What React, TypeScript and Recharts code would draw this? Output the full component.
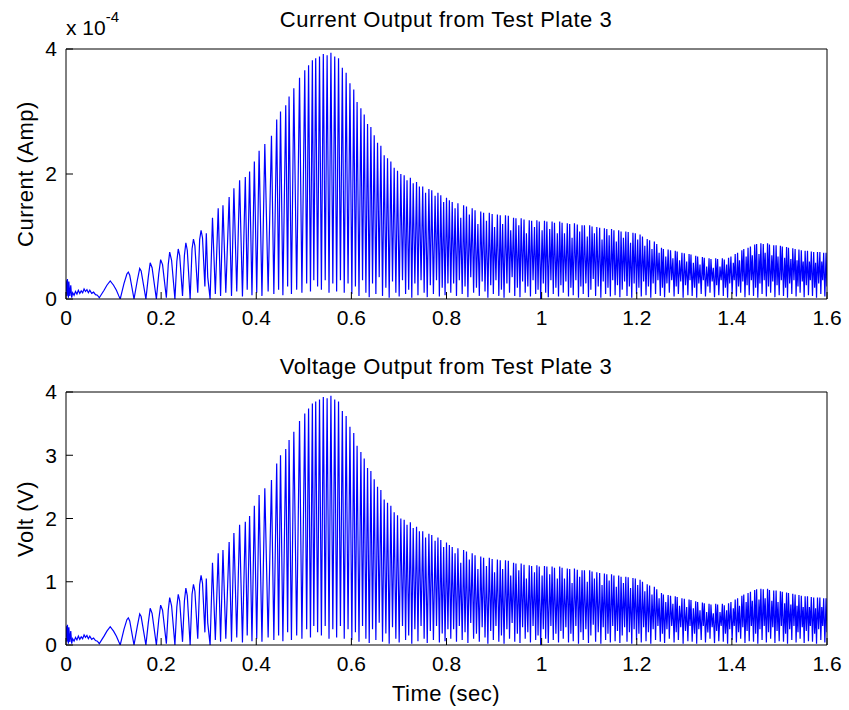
import React from 'react';
import { LineChart, Line, XAxis, YAxis } from 'recharts';

const FONT = '"Liberation Sans", Arial, Helvetica, sans-serif';

const xTicks = [0, 0.2, 0.4, 0.6, 0.8, 1, 1.2, 1.4, 1.6];
const currentTicks = [0, 2, 4];
const voltTicks = [0, 1, 2, 3, 4];

// [time in ms, amplitude] — amplitude is in volts (bottom) and in 1e-4 A (top)
type Pt = [number, number];

const quietStart: Pt[] = [
  [0, 0.30], [2, 0.05], [3, 0.32], [5, 0.02], [6, 0.28], [8, 0.05], [10, 0.22], [12, 0.02], [14, 0.10], [17, 0.06],
  [20, 0.12], [23, 0.08], [26, 0.14], [29, 0.09], [32, 0.13], [35, 0.10], [38, 0.16], [41, 0.12], [44, 0.15], [47, 0.10],
  [50, 0.14], [54, 0.09], [58, 0.11], [62, 0.07], [66, 0.06], [70, 0.02], [75, 0.08], [80, 0.14], [86, 0.22], [93, 0.29],
  [100, 0.22], [106, 0.14], [111, 0.05], [114, 0.00],
];

const riseCycles: Pt[] = [
  [122, 0.25], [128, 0.40], [131, 0.43], [134, 0.38], [143, 0.00],
  [150, 0.30], [155, 0.49], [158, 0.45], [168, 0.00],
  [173, 0.35], [177, 0.58], [181, 0.50], [190, 0.00],
  [195, 0.40], [199, 0.63], [203, 0.55], [211, 0.02],
  [215, 0.55], [218, 0.75], [222, 0.62], [229, 0.00],
  [233, 0.60], [236, 0.80], [239, 0.70], [245, 0.05],
  [249, 0.70], [252, 0.90], [255, 0.78], [261, 0.00],
  [265, 0.80], [268, 0.96], [271, 0.85], [277, 0.10],
  [281, 0.95], [284, 1.10], [287, 0.98], [292, 0.20],
  [295, 1.05], [298, 0.35], [303, 0.00],
];

const growthCycles: Pt[] = [
  [308, 1.30], [314, 0.08], [320, 1.45], [325, 0.05], [330, 1.50], [336, 0.10], [343, 1.63], [348, 0.05],
  [353, 1.77], [359, 0.12], [365, 1.90], [371, 0.04], [377, 1.95], [381, 0.15], [386, 2.04], [391, 0.06],
  [396, 2.20], [401, 0.10], [406, 2.37], [412, 0.05], [418, 2.48], [425, 0.12], [432, 2.61], [437, 0.08],
  [443, 2.87], [447, 0.15], [451, 3.00], [456, 0.06], [462, 3.10], [466, 0.20], [469, 3.24], [474, 0.08],
  [479, 3.37], [485, 0.15], [491, 3.54], [496, 0.10], [502, 3.66], [506, 0.25], [510, 3.74], [514, 0.12],
  [518, 3.82], [521, 0.30], [525, 3.85],
];

const peakCycles: Pt[] = [
  [529, 0.20], [533, 3.88], [537, 0.15], [541, 3.92], [545, 0.30], [549, 3.90], [553, 0.10], [557, 3.94],
  [561, 0.25], [565, 3.88], [569, 0.12], [573, 3.85], [577, 0.30], [581, 3.70], [585, 0.10], [589, 3.62],
  [593, 0.25], [597, 3.45], [601, 0.08],
];

const decayCycles: Pt[] = [
  [605, 3.35], [608.5, 0.20], [612, 3.15], [616, 0.05], [620, 3.05], [623.5, 0.30], [627, 2.95], [630.5, 0.10],
  [634, 2.80], [637.5, 0.03], [641, 2.75], [644.5, 0.25], [648, 2.62], [651.5, 0.08], [655, 2.50], [658.5, 0.35],
  [662, 2.45], [665.5, 0.05], [669, 2.30], [672.5, 0.18], [676, 2.25], [679.5, 0.02], [683, 2.20], [686.5, 0.28],
  [690, 2.10], [693.5, 0.10], [697, 2.05], [700.5, 0.04], [704, 2.00], [707.5, 0.30], [711, 1.98], [714, 0.08],
  [717, 1.90], [720.5, 0.15], [724, 1.94], [727, 0.02], [730, 1.85], [733.5, 0.25], [737, 1.87], [740, 0.06],
  [743, 1.80], [746.5, 0.30], [750, 1.80], [753, 0.10], [756, 1.70], [759.5, 0.03], [763, 1.76], [766, 0.22],
  [769, 1.74], [772.5, 0.08], [776, 1.65], [779, 0.30], [782, 1.70], [785, 0.04], [788, 1.66], [791, 0.18],
  [794, 1.55], [797, 0.06], [800, 1.62], [803, 0.25],
];

const plateauCycles: Pt[] = [
  [806, 1.58], [809, 0.10], [812, 1.55], [815, 0.25], [818, 1.45], [821, 0.05], [824, 1.53], [827, 0.30],
  [830, 1.30], [833, 0.08], [836, 1.50], [839, 0.20], [842, 1.48], [845, 0.03], [848, 1.35], [851, 0.35],
  [854, 1.45], [857, 0.10], [860, 1.42], [863, 0.18], [866, 1.20], [869, 0.05], [872, 1.40], [875, 0.28],
  [878, 1.38], [881, 0.12], [884, 1.25], [887, 0.02], [890, 1.38], [893, 0.22], [896, 1.36], [898.5, 0.08],
  [901, 1.15], [904, 0.30], [907, 1.35], [910, 0.05], [913, 1.34], [915.5, 0.15], [918, 1.20], [921, 0.02],
  [924, 1.34], [927, 0.25], [930, 1.33], [932.5, 0.10], [935, 1.10], [938, 0.35], [941, 1.30], [943.5, 0.05],
  [946, 1.29], [949, 0.18], [952, 1.18], [954.5, 0.03], [957, 1.29], [960, 0.28], [963, 1.27], [965.5, 0.10],
  [968, 1.05], [971, 0.20], [974, 1.26], [976.5, 0.04], [979, 1.25], [982, 0.30], [985, 1.15], [987.5, 0.08],
  [990, 1.26], [992.5, 0.15], [995, 1.24], [998, 0.00], [1001, 1.10], [1003.5, 0.25], [1006, 1.25], [1008.5, 0.10],
  [1011, 1.24], [1014, 0.03], [1017, 1.12], [1019.5, 0.30], [1022, 1.24], [1024.5, 0.08], [1027, 1.22], [1030, 0.18],
  [1033, 1.05], [1035.5, 0.04], [1038, 1.24], [1040.5, 0.22],
];

const tailCycles: Pt[] = [
  [1043, 1.22], [1045.5, 0.10], [1048, 1.05], [1051, 0.28], [1054, 1.21], [1056.5, 0.04], [1059, 1.20], [1061.5, 0.18],
  [1064, 0.98], [1066.5, 0.06], [1069, 1.21], [1072, 0.30], [1075, 1.19], [1077.5, 0.02], [1080, 1.08], [1082.5, 0.20],
  [1085, 1.18], [1087.5, 0.08], [1090, 1.18], [1093, 0.25], [1096, 1.00], [1098.5, 0.03], [1101, 1.18], [1103.5, 0.15],
  [1106, 1.16], [1108.5, 0.32], [1111, 1.05], [1113.5, 0.05], [1116, 1.15], [1119, 0.20], [1122, 1.14], [1124.5, 0.02],
  [1127, 0.95], [1129.5, 0.28], [1132, 1.13], [1134.5, 0.08], [1137, 1.12], [1139.5, 0.18], [1142, 1.02], [1144.5, 0.04],
  [1147, 1.12], [1149.5, 0.30], [1152, 1.10], [1154.5, 0.06], [1157, 0.92], [1159.5, 0.22], [1162, 1.10], [1164.5, 0.03],
  [1167, 1.08], [1169.5, 0.15], [1172, 0.98], [1174.5, 0.28], [1177, 1.08], [1179.5, 0.05], [1182, 1.07], [1184.5, 0.20],
  [1187, 0.90], [1189.5, 0.02], [1192, 1.06], [1194.5, 0.25], [1197, 1.05], [1199.5, 0.08], [1202, 0.95], [1204.5, 0.18],
  [1207, 1.03], [1209.5, 0.04], [1212, 1.00], [1214.5, 0.28], [1217, 0.85], [1219.5, 0.06], [1222, 0.96], [1224.5, 0.20],
  [1227, 0.94], [1229.5, 0.02], [1232, 0.80], [1234.5, 0.25], [1237, 0.92], [1239.5, 0.08], [1242, 0.88], [1244.5, 0.30],
  [1247, 0.74], [1249.5, 0.05], [1252, 0.82], [1254, 0.18], [1256, 0.80], [1258.5, 0.03], [1261, 0.68], [1263.5, 0.25],
  [1266, 0.79], [1268.5, 0.10], [1271, 0.78], [1273.5, 0.30], [1276, 0.65], [1278.5, 0.04], [1281, 0.77], [1283, 0.20],
  [1285, 0.76], [1287.5, 0.08], [1290, 0.62], [1292.5, 0.28], [1295, 0.74], [1297.5, 0.02], [1300, 0.73], [1302.5, 0.22],
  [1305, 0.60], [1307.5, 0.06], [1310, 0.72], [1312, 0.30], [1314, 0.71], [1316.5, 0.05], [1319, 0.58], [1321.5, 0.18],
  [1324, 0.69], [1326, 0.02], [1328, 0.68], [1330.5, 0.25], [1333, 0.55], [1335.5, 0.08], [1338, 0.67], [1340, 0.30],
  [1342, 0.66], [1344.5, 0.04], [1347, 0.52], [1349.5, 0.20], [1352, 0.65], [1354, 0.10], [1356, 0.64], [1358.5, 0.28],
  [1361, 0.50], [1363.5, 0.03], [1366, 0.65], [1368, 0.22], [1370, 0.64], [1372.5, 0.06], [1375, 0.52], [1377.5, 0.30],
  [1380, 0.65], [1382, 0.05], [1384, 0.63], [1386.5, 0.18], [1389, 0.55], [1391, 0.02], [1393, 0.66], [1395.5, 0.25],
  [1398, 0.68], [1400.5, 0.08], [1403, 0.58], [1405, 0.30], [1407, 0.72], [1409.5, 0.04], [1412, 0.74], [1414, 0.20],
  [1416, 0.62], [1418.5, 0.10], [1421, 0.78], [1423, 0.28], [1425, 0.80], [1427.5, 0.03], [1430, 0.68], [1432, 0.22],
  [1434, 0.82], [1436.5, 0.06], [1439, 0.84], [1441, 0.30], [1443, 0.70], [1445.5, 0.05], [1448, 0.87], [1450, 0.18],
  [1452, 0.88], [1454.5, 0.02], [1457, 0.72], [1459, 0.25], [1461, 0.89], [1463.5, 0.08], [1466, 0.88], [1468, 0.30],
  [1470, 0.74], [1472.5, 0.04], [1475, 0.89], [1477, 0.20], [1479, 0.87], [1481.5, 0.10], [1484, 0.70], [1486, 0.28],
  [1488, 0.86], [1490.5, 0.03], [1493, 0.86], [1495, 0.22], [1497, 0.68], [1499.5, 0.06], [1502, 0.85], [1504, 0.30],
  [1506, 0.84], [1508.5, 0.05], [1511, 0.66], [1513, 0.18], [1515, 0.83], [1517, 0.02], [1519, 0.82], [1521.5, 0.25],
  [1524, 0.64], [1526, 0.08], [1528, 0.81], [1530.5, 0.30], [1533, 0.80], [1535, 0.04], [1537, 0.62], [1539, 0.20],
  [1541, 0.79], [1543.5, 0.10], [1546, 0.78], [1548, 0.28], [1550, 0.60], [1552, 0.03], [1554, 0.77], [1556.5, 0.22],
  [1559, 0.77], [1561, 0.06], [1563, 0.60], [1565, 0.30], [1567, 0.76], [1569.5, 0.05], [1572, 0.75], [1574, 0.18],
  [1576, 0.58], [1578, 0.02], [1580, 0.75], [1582.5, 0.25], [1585, 0.75], [1587, 0.08], [1589, 0.60], [1591, 0.30],
  [1593, 0.74], [1595.5, 0.04], [1598, 0.74], [1600, 0.20],
];

const samples = [
  ...quietStart,
  ...riseCycles,
  ...growthCycles,
  ...peakCycles,
  ...decayCycles,
  ...plateauCycles,
  ...tailCycles,
].map(([ms, v]) => ({ t: ms / 1000, v }));

const tickStyle = { fill: '#000', fontSize: 21, fontFamily: FONT };

function Panel({ top, height, bottomMargin, yTicks }: { top: number; height: number; bottomMargin: number; yTicks: number[] }) {
  return (
    <div style={{ position: 'absolute', left: 0, top, width: 849, height }}>
      <LineChart width={849} height={height} data={samples} margin={{ top: 39, right: 2, bottom: bottomMargin, left: 16 }}>
        <XAxis
          xAxisId="b"
          type="number"
          dataKey="t"
          domain={[0, 1.6]}
          ticks={xTicks}
          interval={0}
          tickSize={-7}
          tickMargin={18}
          height={30}
          stroke="#000"
          tick={tickStyle}
          allowDataOverflow
        />
        <XAxis
          xAxisId="t"
          orientation="top"
          type="number"
          dataKey="t"
          domain={[0, 1.6]}
          ticks={xTicks}
          interval={0}
          tickSize={-7}
          height={10}
          stroke="#000"
          tick={false}
          allowDataOverflow
        />
        <YAxis
          yAxisId="l"
          type="number"
          domain={[0, 4]}
          ticks={yTicks}
          interval={0}
          tickSize={-7}
          tickMargin={16}
          width={50}
          stroke="#000"
          tick={tickStyle}
          allowDataOverflow
        />
        <YAxis
          yAxisId="r"
          orientation="right"
          type="number"
          domain={[0, 4]}
          ticks={yTicks}
          interval={0}
          tickSize={-7}
          width={20}
          stroke="#000"
          tick={false}
          allowDataOverflow
        />
        <Line
          xAxisId="b"
          yAxisId="l"
          dataKey="v"
          type="linear"
          stroke="#0000ff"
          strokeWidth={1.2}
          dot={false}
          isAnimationActive={false}
        />
      </LineChart>
    </div>
  );
}

export default function App() {
  return (
    <div style={{ position: 'absolute', left: 0, top: 0, width: 849, height: 710, background: '#fff', overflow: 'hidden' }}>
      <Panel top={0} height={355} bottomMargin={26} yTicks={currentTicks} />
      <Panel top={343} height={367} bottomMargin={35} yTicks={voltTicks} />
      <svg
        width={849}
        height={710}
        style={{ position: 'absolute', left: 0, top: 0, pointerEvents: 'none' }}
        fontFamily={FONT}
        fill="#000"
      >
        <text x={446} y={27} fontSize={22} letterSpacing={0.5} textAnchor="middle">Current Output from Test Plate 3</text>
        <text x={66} y={35} fontSize={21}>
          x 10<tspan dy={-13} fontSize={15}>-4</tspan>
        </text>
        <text x={446} y={374} fontSize={22} letterSpacing={0.5} textAnchor="middle">Voltage Output from Test Plate 3</text>
        <text x={446} y={701} fontSize={22} letterSpacing={0.5} textAnchor="middle">Time (sec)</text>
        <text x={33} y={174} fontSize={22} letterSpacing={0.5} textAnchor="middle" transform="rotate(-90 33 174)">Current (Amp)</text>
        <text x={33} y={519} fontSize={22} letterSpacing={0.5} textAnchor="middle" transform="rotate(-90 33 519)">Volt (V)</text>
      </svg>
    </div>
  );
}
